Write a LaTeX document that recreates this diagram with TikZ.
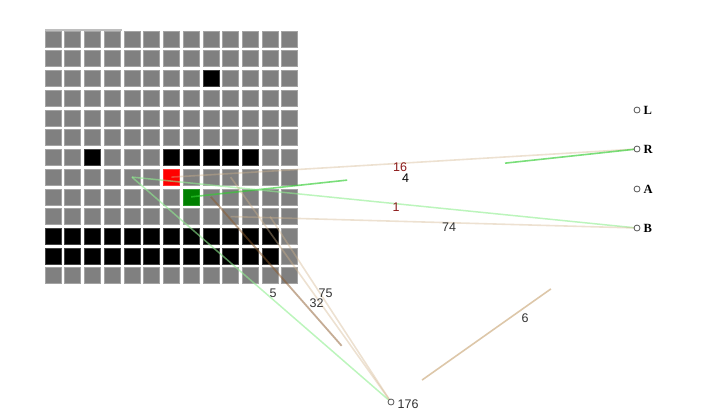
\documentclass[tikz,border=0pt]{standalone}
\usepackage{fontspec}
\setmainfont{Liberation Serif}
\newfontfamily\numfont{Liberation Sans}
\usetikzlibrary{calc}
\pgfdeclarelayer{edgelayer}
\pgfdeclarelayer{front}
\pgfsetlayers{main,edgelayer,front}
\definecolor{cellgray}{HTML}{808080}
\definecolor{cellborder}{HTML}{A4A4A4}
\definecolor{tanc}{HTML}{D2B48C}
\definecolor{brownc}{HTML}{8B5A2B}
\definecolor{lgreen}{HTML}{90EE90}
\definecolor{limec}{HTML}{32CD32}
\definecolor{txt}{HTML}{333333}
\definecolor{redtxt}{HTML}{8B1A1A}
\definecolor{dotc}{HTML}{555555}
\begin{document}
\begin{tikzpicture}[x=1pt,y=-1pt,
  cell/.style={rectangle,minimum size=16pt,inner sep=0pt,fill=cellgray,draw=cellborder,line width=0.6pt},
  blackcell/.style={cell,fill=black,draw=black!75},
  redcell/.style={cell,fill=red,draw=red!80!white},
  greencell/.style={cell,fill={rgb,255:red,0;green,128;blue,0},draw={rgb,255:red,40;green,150;blue,40}},
  enddot/.style={circle,draw=dotc,fill=white,minimum size=6pt,inner sep=0pt,line width=0.8pt},
  endlabel/.style={anchor=west,inner sep=0pt,font=\fontsize{12.5}{14}\selectfont\bfseries,text=black},
  numlabel/.style={inner sep=0pt,font=\numfont\fontsize{12.5}{14}\selectfont,text=txt},
  paletan/.style={draw=tanc,draw opacity=0.4,line width=1.6pt},
  midtan/.style={draw=tanc,draw opacity=0.75,line width=1.6pt},
  darkbrown/.style={draw=brownc,draw opacity=0.5,line width=1.8pt},
  palegreen/.style={draw=lgreen,draw opacity=0.6,line width=1.5pt},
  brightgreen/.style={draw=limec,draw opacity=0.65,line width=1.6pt},
  topline/.style={draw={rgb,255:red,190;green,190;blue,190},line width=1.5pt}]
\useasboundingbox (0,0) rectangle (711,418);
% grid of cells
\foreach \r in {0,...,12}{
  \foreach \c in {0,...,12}{
    \node[cell] (c\r-\c) at ({53+19.73*\c},{39+19.73*\r}) {};
  }
}
\foreach \r/\c in {2/8,6/2,6/6,6/7,6/8,6/9,6/10}{
  \node[blackcell] (k\r-\c) at (c\r-\c) {};
}
\foreach \r in {10,11}{
  \foreach \c in {0,...,11}{
    \node[blackcell] (k\r-\c) at (c\r-\c) {};
  }
}
\node[redcell] (red) at (c7-6) {};
\node[greencell] (grn) at (c8-7) {};
\coordinate (tl0) at (45,30);
\coordinate (tl1) at (122,30);
\draw[topline] (tl0) -- (tl1);

% end nodes
\begin{pgfonlayer}{front}
\node[enddot] (L) at (637,110) {};
\node[enddot] (R) at (637,149) {};
\node[enddot] (A) at (637,189) {};
\node[enddot] (B) at (637,228) {};
\node[enddot] (N176) at (391,402) {};
\node[endlabel] (Ltxt) at (643.5,110.5) {L};
\node[endlabel] (Rtxt) at (643.5,149.5) {R};
\node[endlabel] (Atxt) at (643.5,189.5) {A};
\node[endlabel] (Btxt) at (643.5,228.5) {B};
\node[numlabel,anchor=west] (t176) at (397.5,404) {176};
% edge labels
\node[numlabel,text=redtxt] (l16) at (400,167) {16};
\node[numlabel,text=black] (l4) at (405.5,178) {4};
\node[numlabel,text=redtxt] (l1) at (396,207) {1};
\node[numlabel] (l74) at (449,227) {74};
\node[numlabel] (l5) at (273,293.5) {5};
\node[numlabel] (l32) at (316.5,303) {32};
\node[numlabel] (l75) at (325.5,293) {75};
\node[numlabel] (l6) at (525,318) {6};
\end{pgfonlayer}

% connectors
\begin{pgfonlayer}{edgelayer}
\draw[paletan] (c7-6.center) -- (R.center);
\draw[brightgreen] (c8-7.center) -- ($(c8-7.center)!0.35!(R.center)$);
\draw[brightgreen] ($(c8-7.center)!0.704!(R.center)$) -- (R.center);
\draw[palegreen] (c7-4.center) -- (B.center);
\draw[paletan] (c9-9.center) -- (B.center);
\draw[palegreen] (c7-4.center) -- (N176.center);
\draw[darkbrown] (c8-8.center) -- ($(c8-8.center)!0.726!(N176.center)$);
\draw[paletan] (c7-9.center) -- (N176.center);
\draw[paletan] (c9-11.center) -- (N176.center);
\draw[midtan] ($(N176.center)!0.126!(B.center)$) -- ($(N176.center)!0.65!(B.center)$);
\end{pgfonlayer}
\end{tikzpicture}
\end{document}
